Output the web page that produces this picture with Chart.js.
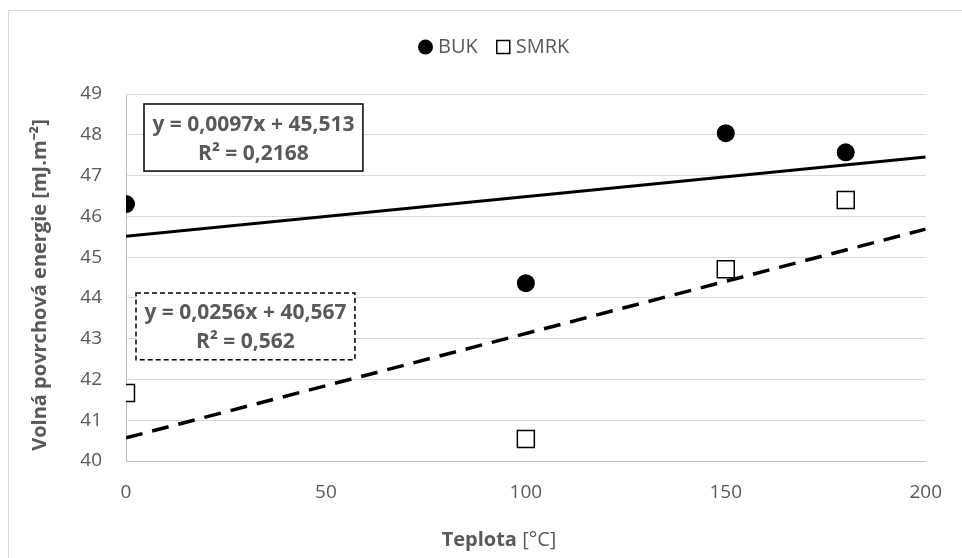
<!DOCTYPE html>
<html>
<head>
<meta charset="utf-8">
<script src="https://cdn.jsdelivr.net/npm/chart.js@4"></script>
<style>
  html, body { margin: 0; padding: 0; background: #fff; }
  #obal { width: 962px; height: 558px; }
</style>
</head>
<body>
<div id="obal"><canvas id="myChart"></canvas></div>
<script>
Chart.defaults.font.family = "'Open Sans', sans-serif";
Chart.defaults.font.size = 19;
Chart.defaults.color = '#595959';

// data
var teplota = [0, 100, 150, 180];
var buk = [46.3, 44.36, 48.04, 47.57];
var smrk = [41.67, 40.54, 44.7, 46.4];
// trendline ends (x = 0 and x = 200)
var trendX = [0, 200];
var bukTrend = [45.513, 47.453];
var smrkTrend = [40.567, 45.687];
var xTicks = [0, 50, 100, 150, 200];
var yTicks = [40, 41, 42, 43, 44, 45, 46, 47, 48, 49];
var bukRovnice = ['y = 0,0097x + 45,513', 'R² = 0,2168'];
var smrkRovnice = ['y = 0,0256x + 40,567', 'R² = 0,562'];

function body(xs, ys) {
  return xs.map(function (x, i) { return { x: x, y: ys[i] }; });
}

// text boxes with the regression equations (box corners in data units)
var stitky = [
  { text: bukRovnice, x0: 4.5, x1: 59.25, y0: 48.755, y1: 47.11, dash: [] },
  { text: smrkRovnice, x0: 2.5, x1: 57.25, y0: 44.12, y1: 42.48, dash: [5, 3] }
];

var ramecek = {
  id: 'ramecek',
  beforeDraw: function (chart) {
    var c = chart.ctx;
    c.save();
    c.fillStyle = '#fff';
    c.fillRect(0, 0, chart.width, chart.height);
    c.strokeStyle = '#d9d9d9';
    c.lineWidth = 1;
    c.strokeRect(8.5, 10.5, chart.width + 20, chart.height + 20);
    c.restore();
  },
  afterDraw: function (chart) {
    var c = chart.ctx;
    var sx = chart.scales.x, sy = chart.scales.y;
    c.save();

    // equation boxes
    stitky.forEach(function (s) {
      var l = sx.getPixelForValue(s.x0), r = sx.getPixelForValue(s.x1);
      var t = sy.getPixelForValue(s.y0), b = sy.getPixelForValue(s.y1);
      c.fillStyle = '#fff';
      c.fillRect(l, t, r - l, b - t);
      c.strokeStyle = '#000';
      c.lineWidth = 1.5;
      c.setLineDash(s.dash);
      c.strokeRect(l, t, r - l, b - t);
      c.setLineDash([]);
      c.fillStyle = '#595959';
      c.font = "bold 21px 'Open Sans'";
      c.textAlign = 'center';
      c.textBaseline = 'middle';
      var cy = (t + b) / 2;
      c.fillText(s.text[0], (l + r) / 2, cy - 13);
      c.fillText(s.text[1], (l + r) / 2, cy + 16);
    });

    // legend
    var lx = 418, ly = 47;
    chart.data.datasets.forEach(function (d) {
      if (!d.vLegende) return;
      c.lineWidth = 1.5;
      c.strokeStyle = '#000';
      if (d.pointStyle === 'circle') {
        c.fillStyle = '#000';
        c.beginPath();
        c.arc(lx + 7.5, ly, 7.5, 0, Math.PI * 2);
        c.fill();
      } else {
        c.fillStyle = '#fff';
        c.fillRect(lx + 1, ly - 6.5, 13, 13);
        c.strokeRect(lx + 1, ly - 6.5, 13, 13);
      }
      c.font = "20px 'Open Sans'";
      c.fillStyle = '#595959';
      c.textAlign = 'left';
      c.textBaseline = 'middle';
      c.fillText(d.label, lx + 20, ly);
      lx += 20 + c.measureText(d.label).width + 18;
    });

    // axis titles
    c.fillStyle = '#595959';
    c.textBaseline = 'middle';
    var t1 = 'Teplota';
    c.font = "20px 'Open Sans'";
    var t2 = ' [°C]';
    var w2 = c.measureText(t2).width;
    c.font = "bold 20px 'Open Sans'";
    var w1 = c.measureText(t1).width;
    var x0 = 499 - (w1 + w2) / 2;
    c.textAlign = 'left';
    c.fillText(t1, x0, 540);
    c.font = "20px 'Open Sans'";
    c.fillText(t2, x0 + w1, 540);

    c.translate(40, 285);
    c.rotate(-Math.PI / 2);
    c.textAlign = 'center';
    c.font = "bold 20px 'Open Sans'";
    c.fillText('Volná povrchová energie [mJ.m⁻²]', 0, 0);
    c.restore();
  }
};

var ctx = document.getElementById('myChart');

var myChart = new Chart(ctx, {
  type: 'scatter',
  data: {
    datasets: [
      {
        label: 'BUK',
        vLegende: true,
        data: body(teplota, buk),
        pointStyle: 'circle',
        pointRadius: 9,
        backgroundColor: '#000',
        borderColor: '#000',
        borderWidth: 0
      },
      {
        label: 'SMRK',
        vLegende: true,
        data: body(teplota, smrk),
        pointStyle: 'rect',
        pointRadius: 12,
        backgroundColor: '#fff',
        borderColor: '#000',
        borderWidth: 1.5
      },
      {
        label: 'Lineární (BUK)',
        data: body(trendX, bukTrend),
        showLine: true,
        pointRadius: 0,
        borderColor: '#000',
        borderWidth: 3
      },
      {
        label: 'Lineární (SMRK)',
        data: body(trendX, smrkTrend),
        showLine: true,
        pointRadius: 0,
        borderColor: '#000',
        borderWidth: 3.5,
        borderDash: [17, 10]
      }
    ]
  },
  options: {
    responsive: true,
    maintainAspectRatio: false,
    animation: false,
    events: [],
    layout: { padding: { left: 8, right: 36, top: 94, bottom: 0 } },
    plugins: {
      legend: { display: false },
      tooltip: { enabled: false }
    },
    scales: {
      x: {
        type: 'linear',
        min: 0,
        max: 200,
        afterBuildTicks: function (s) { s.ticks = xTicks.map(function (v) { return { value: v }; }); },
        afterFit: function (s) { s.height = 97; },
        ticks: { padding: 20, color: '#595959' },
        grid: { display: false, drawTicks: false },
        border: { display: true, color: '#bfbfbf', width: 1 }
      },
      y: {
        min: 40,
        max: 49,
        afterBuildTicks: function (s) { s.ticks = yTicks.map(function (v) { return { value: v }; }); },
        afterFit: function (s) { s.width = 118; },
        ticks: { padding: 24, color: '#595959' },
        grid: { color: '#d9d9d9', drawTicks: false },
        border: { display: true, color: '#bfbfbf', width: 1 }
      }
    }
  },
  plugins: [ramecek]
});
</script>
</body>
</html>
